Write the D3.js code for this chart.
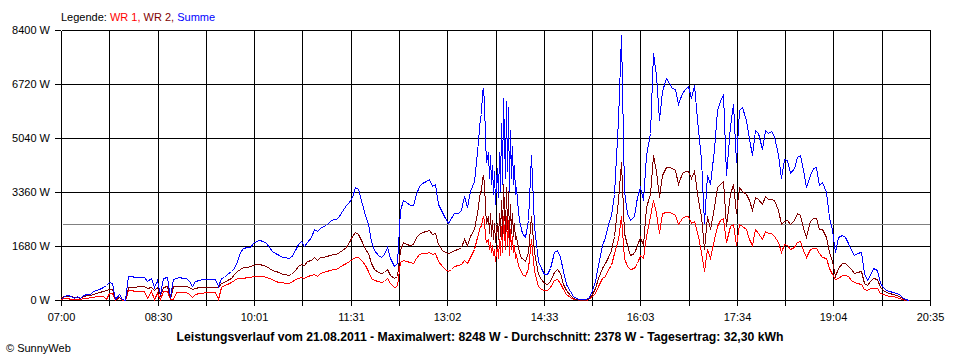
<!DOCTYPE html>
<html><head><meta charset="utf-8">
<script src="https://cdn.jsdelivr.net/npm/d3@7"></script>
<style>
body{margin:0;background:#fff}
svg{display:block}
text{font-family:"Liberation Sans",Arial,sans-serif;font-size:11px;fill:#000}
</style>
</head><body><svg id="chart" width="960" height="360"></svg>
<script>
// ---- data ----
const dayStart = "07:00";
const dayEnd = "20:35";
// sample times in minutes after 07:00: every 3 min, every minute during the cloudy 13:34-14:11 stretch
const minutes = [].concat(d3.range(0, 394, 3), d3.range(394, 432, 1), d3.range(432, 796, 3));
const xTickLabels = ["07:00","08:30","10:01","11:31","13:02","14:33","16:03","17:34","19:04","20:35"];
const yTickValues = [0,1680,3360,5040,6720,8400];
const yTickLabels = ["0 W","1680 W","3360 W","5040 W","6720 W","8400 W"];
const seriesNames = ["WR 1","WR 2","Summe"];
const averageW = 2378;
const titleText = "Leistungsverlauf vom 21.08.2011 - Maximalwert: 8248 W - Durchschnitt: 2378 W - Tagesertrag: 32,30 kWh";

const wr1 = [
30,50,50,40,20,40,20,60,70,80,
100,110,120,140,20,230,210,0,100,0,
0,300,300,290,290,290,280,60,280,20,
220,30,270,280,20,20,250,260,240,240,
200,100,200,220,230,240,240,240,240,20,
420,460,500,560,620,670,700,700,710,720,
740,750,750,740,710,680,640,600,570,550,
540,540,550,640,700,720,700,760,780,820,
760,850,880,900,930,960,980,1020,1080,1150,
1200,1280,1350,1330,1200,1080,900,700,620,580,
570,600,700,520,420,450,1180,1250,1200,1180,
1150,1300,1430,1450,1470,1480,1420,1450,1200,1050,
950,900,950,1050,1100,1120,1250,1150,1350,1600,
1950,2300,
2300,2500,2600,2500,2000,1800,1900,1600,1800,1500,
1700,1400,1600,1200,1500,1700,1300,1900,1400,2300,
1500,2600,1600,2600,1700,2500,1400,2200,1600,2000,
1500,1700,1300,1400,1250,1100,1000,900,
800,750,1000,1900,900,450,
350,300,300,400,620,650,520,350,180,100,
40,20,10,10,15,30,120,220,450,700,
750,950,1100,1450,1900,2600,1300,1050,950,1000,
1150,1400,1300,2000,2600,3100,2700,2100,2700,2750,
2750,2700,2650,2350,2550,2600,2600,2400,2450,2000,
1500,900,1600,1300,1900,2300,2500,2550,1800,2300,
2350,1700,2350,2300,2200,1900,1700,2200,2100,1900,
2150,2100,2100,2000,1800,1500,1750,1720,1600,1650,
1800,1830,1550,1350,1600,1620,1620,1450,1350,1300,
1000,800,650,700,780,780,740,620,550,540,
500,350,320,370,380,360,220,180,160,140,
110,100,70,40,10,0
];

const wr2 = [
80,110,120,120,80,90,70,130,150,170,
200,220,250,280,300,340,330,20,100,20,
0,410,420,420,430,430,430,380,420,300,
400,150,420,440,60,430,450,450,450,440,
400,350,380,400,410,410,410,410,410,420,
520,550,620,700,800,900,980,1030,1030,1050,
1080,1110,1110,1100,1060,1000,940,900,860,820,
800,790,800,920,1060,1120,1100,1200,1250,1330,
1250,1330,1340,1360,1400,1440,1440,1480,1560,1660,
1800,2000,2120,2050,1800,1600,1450,1150,950,880,
830,880,980,780,680,750,1550,1800,1750,1720,
1750,1950,2050,2120,2150,2180,2050,2080,1750,1550,
1480,1450,1500,1560,1600,1650,1900,1700,2000,2200,
2700,3400,
3400,3800,3900,3600,2900,2400,2600,2100,2700,2000,
2500,1900,2400,1800,2200,2400,1900,2700,2000,3100,
2000,3600,2100,3500,2200,3400,1900,3000,2100,2700,
2000,2400,1900,2000,1800,1650,1500,1300,
1300,1200,1500,2600,1500,800,
650,520,500,600,870,950,850,500,300,150,
60,30,15,10,15,50,180,380,700,1000,
1150,1350,1570,2000,3100,4300,2100,1700,1400,1450,
1700,1950,1700,2900,3300,4500,4000,3200,3900,4150,
4150,4100,4050,3600,3950,4000,4000,3800,4000,3100,
2600,1600,2600,2200,2900,3500,3600,3700,2300,3300,
3600,2700,3500,3400,3300,3100,2800,3200,3150,3000,
3250,3150,3150,3100,2800,2350,2450,2500,2350,2500,
2700,2650,2250,1950,2450,2550,2550,2200,2200,1950,
1500,1200,750,1000,1150,1150,1050,950,850,880,
900,530,480,600,670,640,400,300,250,230,
190,160,120,60,10,0
];

const summe = [
40,120,150,130,60,130,60,170,180,200,
290,300,330,420,480,560,530,20,200,30,
0,750,740,730,730,730,720,600,700,400,
620,200,700,720,100,650,700,710,690,680,
600,450,580,620,640,650,650,650,660,450,
690,720,800,900,1000,1200,1500,1620,1660,1660,
1760,1850,1870,1850,1770,1650,1530,1460,1400,1340,
1330,1320,1350,1550,1750,1830,1680,1820,1960,2200,
2150,2250,2290,2330,2450,2520,2520,2600,2780,2950,
3050,3200,3500,3450,3000,2650,2350,1850,1550,1400,
1330,1420,1650,1300,1050,1150,2800,3100,3050,2950,
2950,3300,3550,3650,3700,3750,3550,3600,3000,2750,
2550,2400,2550,2700,2700,2800,3250,2900,3400,3700,
4600,5700,
5800,6500,6550,6200,5000,4300,4600,3800,4500,3600,
4200,3300,4000,3000,3700,4100,3200,4600,3400,5500,
3600,6300,3800,6200,4000,6000,3400,5300,3800,4800,
3600,4200,3300,3500,3100,2800,2500,2200,
2100,1950,2500,4500,2300,1200,
1000,820,820,1000,1500,1550,1350,900,500,280,
120,60,30,20,30,80,300,600,1100,1700,
1950,2350,2650,3300,5600,8248,3400,2700,2500,2600,
3200,3500,3100,4500,5200,7700,7000,5600,6500,6900,
6750,6600,6550,6100,6450,6550,6650,6300,6700,5300,
4400,2400,3900,3600,4700,5900,6200,6400,3900,5400,
6100,4300,5900,6000,5600,5000,4500,5300,5200,4700,
5300,5200,5250,5100,4500,3800,4400,4350,3940,4100,
4460,4510,4045,3525,3890,4100,4150,3580,3680,3370,
2590,2180,1500,1970,2020,1970,1760,1560,1400,1450,
1500,830,620,780,985,930,520,415,310,280,
260,230,190,100,20,0
];

// ---- drawing ----
const colors = ["#ff0000", "#800000", "#0000ff"];
const svg = d3.select("#chart");
const toMin = s => { const [h, m] = s.split(":").map(Number); return h * 60 + m; };
const span = toMin(dayEnd) - toMin(dayStart);

const pLeft = 61, pRight = 930, pTop = 30, pBottom = 300;
const x = d3.scaleLinear().domain([0, span]).range([pLeft, pRight]);
const y = d3.scaleLinear().domain([0, 8400]).range([pBottom, pTop]);

const nGrid = (xTickLabels.length - 1) * 2;
const xGrid = d3.range(nGrid + 1).map(k => k * span / nGrid);
const px = v => Math.round(v) + 0.5;

const grid = svg.append("g").attr("shape-rendering", "crispEdges");
grid.selectAll("line.v").data(xGrid).join("line")
  .attr("x1", d => px(x(d))).attr("x2", d => px(x(d)))
  .attr("y1", px(y(8400))).attr("y2", px(y(0)))
  .attr("stroke", "#000");
grid.selectAll("line.h").data(yTickValues).join("line")
  .attr("x1", px(x(0))).attr("x2", px(x(span)))
  .attr("y1", d => px(y(d))).attr("y2", d => px(y(d)))
  .attr("stroke", "#000");

// average line
svg.append("line")
  .attr("x1", px(x(0)) + 1).attr("x2", px(x(span)) - 1)
  .attr("y1", px(y(averageW))).attr("y2", px(y(averageW)))
  .attr("stroke", "#808080").attr("shape-rendering", "crispEdges");

// axes
const xAxis = d3.axisBottom(x).tickValues(xGrid)
  .tickFormat((d, i) => i % 2 === 0 ? xTickLabels[i / 2] : "")
  .tickSize(6).tickPadding(7);
const gx = svg.append("g").attr("transform", `translate(0,${Math.round(y(0))})`).call(xAxis);
gx.select(".domain").remove();
gx.selectAll(".tick").attr("transform", d => `translate(${px(x(d))},0)`);
gx.selectAll(".tick line").attr("stroke", "#000").attr("shape-rendering", "crispEdges");
gx.selectAll(".tick text").attr("x", 0).style("font-family", '"Liberation Sans",Arial,sans-serif').style("font-size", "11px");

const yAxis = d3.axisLeft(y).tickValues(yTickValues)
  .tickFormat((d, i) => yTickLabels[i]).tickSize(6).tickPadding(5);
const gy = svg.append("g").attr("transform", `translate(${Math.round(x(0))},0)`).call(yAxis);
gy.select(".domain").remove();
gy.selectAll(".tick").attr("transform", d => `translate(0,${px(y(d))})`);
gy.selectAll(".tick line").attr("stroke", "#000").attr("shape-rendering", "crispEdges");
gy.selectAll(".tick text").style("font-family", '"Liberation Sans",Arial,sans-serif').style("font-size", "11px");

// series (aliased polylines like the original renderer)
const line = d3.line()
  .x((d, i) => Math.round(x(minutes[i])) + 0.5)
  .y(d => Math.round(y(d)) + 0.5);
[wr1, wr2, summe].forEach((s, k) => {
  svg.append("path").datum(s).attr("d", line)
    .attr("fill", "none").attr("stroke", colors[k]).attr("stroke-width", 1)
    .attr("shape-rendering", "crispEdges");
});

// legend
const lg = svg.append("text").attr("x", 61).attr("y", 21);
lg.append("tspan").text("Legende: ");
seriesNames.forEach((n, k) => {
  lg.append("tspan").style("fill", colors[k]).text(n + (k < seriesNames.length - 1 ? ", " : ""));
});

// title
svg.append("text").attr("x", 480).attr("y", 341).attr("text-anchor", "middle")
  .style("font-weight", "bold").style("font-size", "12px")
  .attr("textLength", 607).attr("lengthAdjust", "spacingAndGlyphs")
  .text(titleText);

// credit
svg.append("text").attr("x", 6).attr("y", 352).text("\u00A9 SunnyWeb");
</script>
</body></html>
